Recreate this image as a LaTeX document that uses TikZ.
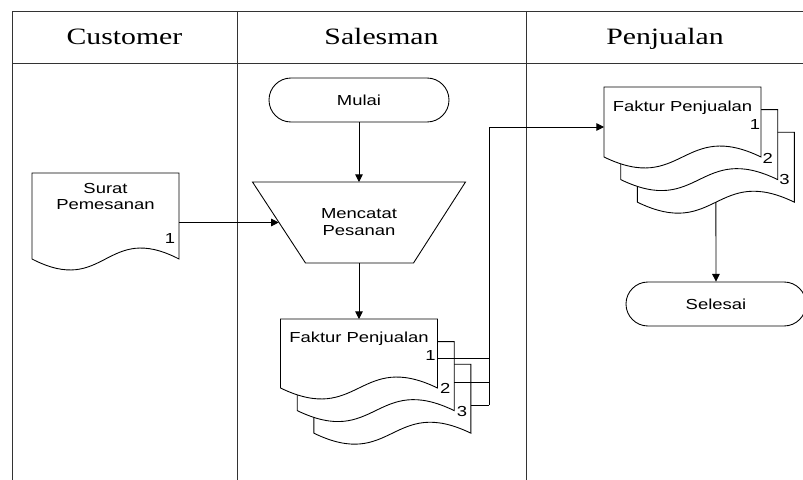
\documentclass[tikz,border=0pt]{standalone}
\usepackage{fontspec}
\setmainfont[FakeStretch=1.27]{Liberation Serif}
\setsansfont[FakeStretch=1.27]{Liberation Sans}
\usetikzlibrary{positioning,calc,arrows.meta}

% dokumen: x, y (kiri atas), lebar, tinggi, nama
\newcommand{\dokumen}[5]{%
  \draw[garis,fill=white] (#1,#2) coordinate (#5-nw) -- (#1+#3,#2) coordinate (#5-ne)
    -- (#1+#3,#2+#4) coordinate (#5-se)
    .. controls (#1+0.5*#3,#2+#4-38) and (#1+0.5*#3,#2+#4+38) .. (#1,#2+#4) coordinate (#5-sw) -- cycle;
  \coordinate (#5-n) at (#1+0.5*#3,#2);
  \coordinate (#5-s) at (#1+0.5*#3,#2+#4);}

\begin{document}
\begin{tikzpicture}[x=0.03cm,y=-0.03cm,
  garis/.style={line width=0.75pt},
  panah/.style={garis,-{Triangle[length=6.5pt,width=6.5pt]}},
  kolom/.style={line width=0.8pt,black!80},
  judul/.style={font=\fontsize{20}{24}\selectfont,anchor=base},
  teks/.style={font=\sffamily\fontsize{12.4}{14.5}\selectfont,align=center,inner sep=0pt},
  terminal/.style={garis,draw,rounded corners=0.66cm,minimum width=5.4cm,minimum height=1.32cm,teks}]

    \useasboundingbox (0,0) rectangle (803,480);
    \clip (0,0) rectangle (803,480);

    % Kolom
    \draw[kolom] (12,480) -- (12,11) -- (803,11);
    \draw[kolom] (12,63) -- (803,63);
    \draw[kolom] (237,11) -- (237,480);
    \draw[kolom] (526,11) -- (526,480);
    \node[judul] (customer) at (124.5,45) {Customer};
    \node[judul] (salesman) at (381.5,45) {Salesman};
    \node[judul] (penjualan) at (665,45) {Penjualan};

    % Customer
    \dokumen{32}{173}{147}{86}{surat}
    \node[teks] (suratteks) at (105.5,196.5) {Surat\\Pemesanan};
    \node[teks] (surat1) at (170,239) {1};

    % Salesman
    \node[terminal] (mulai) at (359,100) {Mulai};
    \draw[garis] (252.5,182) -- (465.5,182) -- (413.5,263) -- (305.5,263) -- cycle;
    \node[teks] (mencatat) at (359,222.5) {Mencatat\\Pesanan};
    \coordinate (mc-n) at (359,182);
    \coordinate (mc-s) at (359,263);
    \coordinate (mc-w) at (278.7,222.5);

    \dokumen{313.9}{364.2}{157}{69}{fl3}
    \dokumen{297.2}{341.6}{157}{69}{fl2}
    \dokumen{280.5}{319}{157}{69}{fl1}
    \node[teks] (fl1teks) at ($(fl1-n)+(0,20)$) {Faktur Penjualan};
    \node[teks] (fl1no) at ($(fl1-ne)+(-7,37)$) {1};
    \node[teks] (fl2no) at ($(fl2-ne)+(-9,47)$) {2};
    \node[teks] (fl3no) at ($(fl3-ne)+(-9,47)$) {3};

    % Penjualan
    \dokumen{637.4}{132.2}{157}{70}{fr3}
    \dokumen{620.7}{109.6}{157}{70}{fr2}
    \dokumen{604}{87}{157}{70}{fr1}
    \node[teks] (fr1teks) at ($(fr1-n)+(0,21)$) {Faktur Penjualan};
    \node[teks] (fr1no) at ($(fr1-ne)+(-6,38)$) {1};
    \node[teks] (fr2no) at ($(fr2-ne)+(-10,49)$) {2};
    \node[teks] (fr3no) at ($(fr3-ne)+(-10,47)$) {3};
    \node[terminal] (selesai) at (716,304) {Selesai};

    % Alur
    \draw[panah] (mulai) -- (mc-n);
    \draw[panah] (surat-ne |- mc-w) -- (mc-w);
    \draw[panah] (mc-s) -- (fl1-n);
    \coordinate (bus) at (489,127);
    \coordinate (k1) at ($(fl1-ne)+(0,39)$);
    \coordinate (k2) at ($(fl2-ne)+(0,40.4)$);
    \coordinate (k3) at ($(fl3-ne)+(0,40.8)$);
    \draw[garis] (k1) -- (k1 -| bus);
    \draw[garis] (k2) -- (k2 -| bus);
    \draw[garis] (k3) -- (k3 -| bus);
    \draw[panah] (k3 -| bus) -- (bus) -- (bus -| fr1-nw);
    \draw[panah] (fr3-s) -- (selesai);
\end{tikzpicture}
\end{document}
